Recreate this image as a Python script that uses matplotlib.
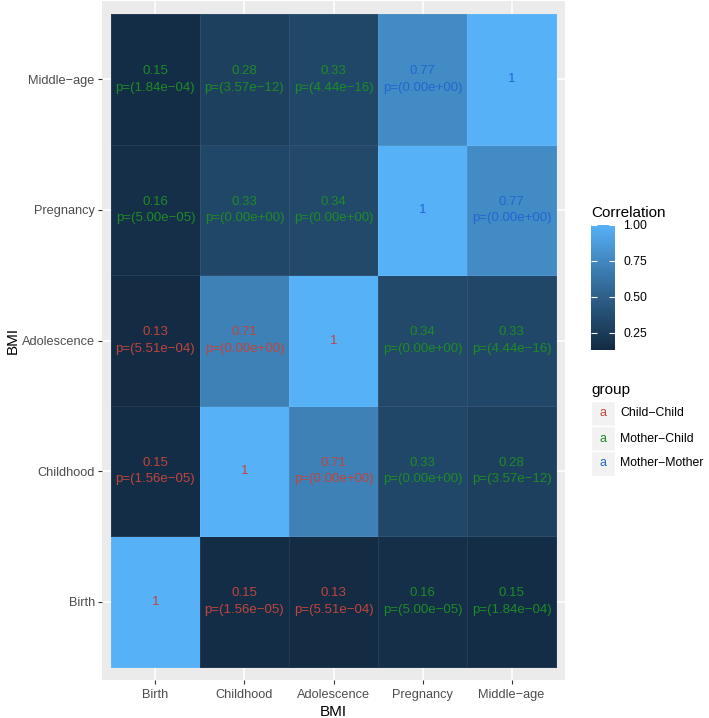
import numpy as np
import matplotlib
matplotlib.use('Agg')
import matplotlib.pyplot as plt
from matplotlib.colors import ListedColormap, Normalize
from matplotlib.patches import Rectangle
from matplotlib.cm import ScalarMappable

plt.rcParams['font.family'] = ['Liberation Sans', 'DejaVu Sans']

# ---------------- data ----------------
stages = ['Birth', 'Childhood', 'Adolescence', 'Pregnancy', 'Middle−age']
corr = [[1.00, 0.15, 0.13, 0.16, 0.15],
        [0.15, 1.00, 0.71, 0.33, 0.28],
        [0.13, 0.71, 1.00, 0.34, 0.33],
        [0.16, 0.33, 0.34, 1.00, 0.77],
        [0.15, 0.28, 0.33, 0.77, 1.00]]
pvals = [[None, '1.56e−05', '5.51e−04', '5.00e−05', '1.84e−04'],
         ['1.56e−05', None, '0.00e+00', '0.00e+00', '3.57e−12'],
         ['5.51e−04', '0.00e+00', None, '0.00e+00', '4.44e−16'],
         ['5.00e−05', '0.00e+00', '0.00e+00', None, '0.00e+00'],
         ['1.84e−04', '3.57e−12', '4.44e−16', '0.00e+00', None]]
stage_owner = ['Child', 'Child', 'Child', 'Mother', 'Mother']
group_names = ['Child−Child', 'Mother−Child', 'Mother−Mother']
group_colors = ['#C0453C', '#1E8B26', '#2266D2']
cbar_ticks = [0.25, 0.50, 0.75, 1.00]

corr = np.array(corr)

# ---------------- ggplot-like gradient (Lab interpolation) ----------------
def srgb_to_lab(rgb):
    rgb = np.asarray(rgb, float)
    lin = np.where(rgb <= 0.04045, rgb / 12.92, ((rgb + 0.055) / 1.055) ** 2.4)
    M = np.array([[0.4124, 0.3576, 0.1805],
                  [0.2126, 0.7152, 0.0722],
                  [0.0193, 0.1192, 0.9505]])
    xyz = M @ lin
    wp = np.array([0.95047, 1.0, 1.08883])
    t = xyz / wp
    f = np.where(t > (6/29)**3, np.cbrt(t), t / (3*(6/29)**2) + 4/29)
    return np.array([116*f[1]-16, 500*(f[0]-f[1]), 200*(f[1]-f[2])])

def lab_to_srgb(lab):
    L, a, b = lab
    fy_ = (L + 16) / 116
    fx_ = fy_ + a / 500
    fz_ = fy_ - b / 200
    f = np.array([fx_, fy_, fz_])
    t = np.where(f > 6/29, f**3, 3*(6/29)**2*(f - 4/29))
    xyz = t * np.array([0.95047, 1.0, 1.08883])
    Minv = np.array([[3.2406, -1.5372, -0.4986],
                     [-0.9689, 1.8758, 0.0415],
                     [0.0557, -0.2040, 1.0570]])
    lin = np.clip(Minv @ xyz, 0, 1)
    rgb = np.where(lin <= 0.0031308, 12.92*lin, 1.055*lin**(1/2.4) - 0.055)
    return np.clip(rgb, 0, 1)

def hex2rgb(h):
    return np.array([int(h[i:i+2], 16) / 255 for i in (1, 3, 5)])

lab_lo = srgb_to_lab(hex2rgb('#132B43'))
lab_hi = srgb_to_lab(hex2rgb('#56B1F7'))
cmap = ListedColormap([lab_to_srgb(lab_lo + (lab_hi - lab_lo) * s)
                       for s in np.linspace(0, 1, 256)])
norm = Normalize(vmin=corr.min(), vmax=corr.max())

# ---------------- figure ----------------
W, H = 709, 718
fig = plt.figure(figsize=(W/100, H/100), dpi=100)

def fx(px):
    return px / W

def fy(py):
    return 1 - py / H

pl, pr, pt, pb = 102, 565, 1, 680
ax = fig.add_axes([fx(pl), fy(pb), fx(pr - pl), (pb - pt) / H])
ax.set_facecolor('#EBEBEB')
for s in ax.spines.values():
    s.set_visible(False)

n = len(stages)
pos = np.arange(1, n + 1)
edges = np.arange(0.5, n + 1)
ax.pcolormesh(edges, edges, corr, cmap=cmap, norm=norm,
              edgecolors=(1, 1, 1, 0.07), linewidth=0.6, zorder=2)

ax.set_xlim(0.4, n + 0.6)
ax.set_ylim(0.4, n + 0.6)
ax.set_xticks(pos)
ax.set_yticks(pos)
ax.set_xticklabels(stages)
ax.set_yticklabels(stages)
ax.set_axisbelow(True)
ax.grid(True, color='white', linewidth=1.1)
ax.tick_params(axis='both', colors='#333333', length=2.7, width=0.8,
               labelsize=9.2, labelcolor='#4D4D4D', pad=2.5)
ax.tick_params(axis='x', pad=4)

for i in range(n):          # column (x)
    for j in range(n):      # row (y)
        gname = stage_owner[i] + '−' + stage_owner[j]
        if gname == 'Child−Mother':
            gname = 'Mother−Child'
        col = group_colors[group_names.index(gname)]
        r = corr[j][i]
        p = pvals[j][i]
        txt = '1' if p is None else f'{r:.2f}\np=({p})'
        ax.text(pos[i], pos[j], txt, ha='center', va='center',
                color=col, fontsize=9.5, linespacing=1.5, zorder=3)

ax.set_xlabel('BMI', fontsize=11)
ax.xaxis.set_label_coords(0.5, (718 - 705 - (718 - pb)) / (pb - pt))
ax.set_ylabel('BMI', fontsize=11)
ax.yaxis.label.set_va('center')
ax.yaxis.set_label_coords((13 - pl) / (pr - pl), 0.5)

# ---------------- colorbar legend ----------------
cb_l, cb_r, cb_t, cb_b = 591, 615, 225, 350
cax = fig.add_axes([fx(cb_l), fy(cb_b), fx(cb_r - cb_l), (cb_b - cb_t) / H])
sm = ScalarMappable(norm=norm, cmap=cmap)
cb = fig.colorbar(sm, cax=cax, ticks=cbar_ticks)
cb.outline.set_visible(False)
cb.ax.set_yticklabels([f'{t:.2f}' for t in cbar_ticks])
cax.tick_params(axis='y', direction='in', length=4.5, width=0.8,
                color='white', left=True, right=True, labelsize=8.8,
                labelcolor='black', pad=6)
fig.text(fx(cb_l), fy(213), 'Correlation', fontsize=11, ha='left', va='center')

# ---------------- group legend ----------------
fig.text(fx(cb_l), fy(390), 'group', fontsize=11, ha='left', va='center')
key_w, key_h = 24, 25
key_top = 401
for k, (gname, gcol) in enumerate(zip(group_names, group_colors)):
    top = key_top + k * key_h
    fig.patches.append(Rectangle((fx(cb_l), fy(top + key_h)), fx(key_w), key_h / H,
                                 transform=fig.transFigure, facecolor='#F2F2F2',
                                 edgecolor='white', linewidth=1.0))
    fig.text(fx(cb_l + key_w / 2), fy(top + key_h / 2), 'a', color=gcol,
             fontsize=9.0, ha='center', va='center')
    fig.text(fx(cb_l + key_w + 5), fy(top + key_h / 2), gname,
             fontsize=8.8, ha='left', va='center')

fig.savefig('out.png', dpi=100)
